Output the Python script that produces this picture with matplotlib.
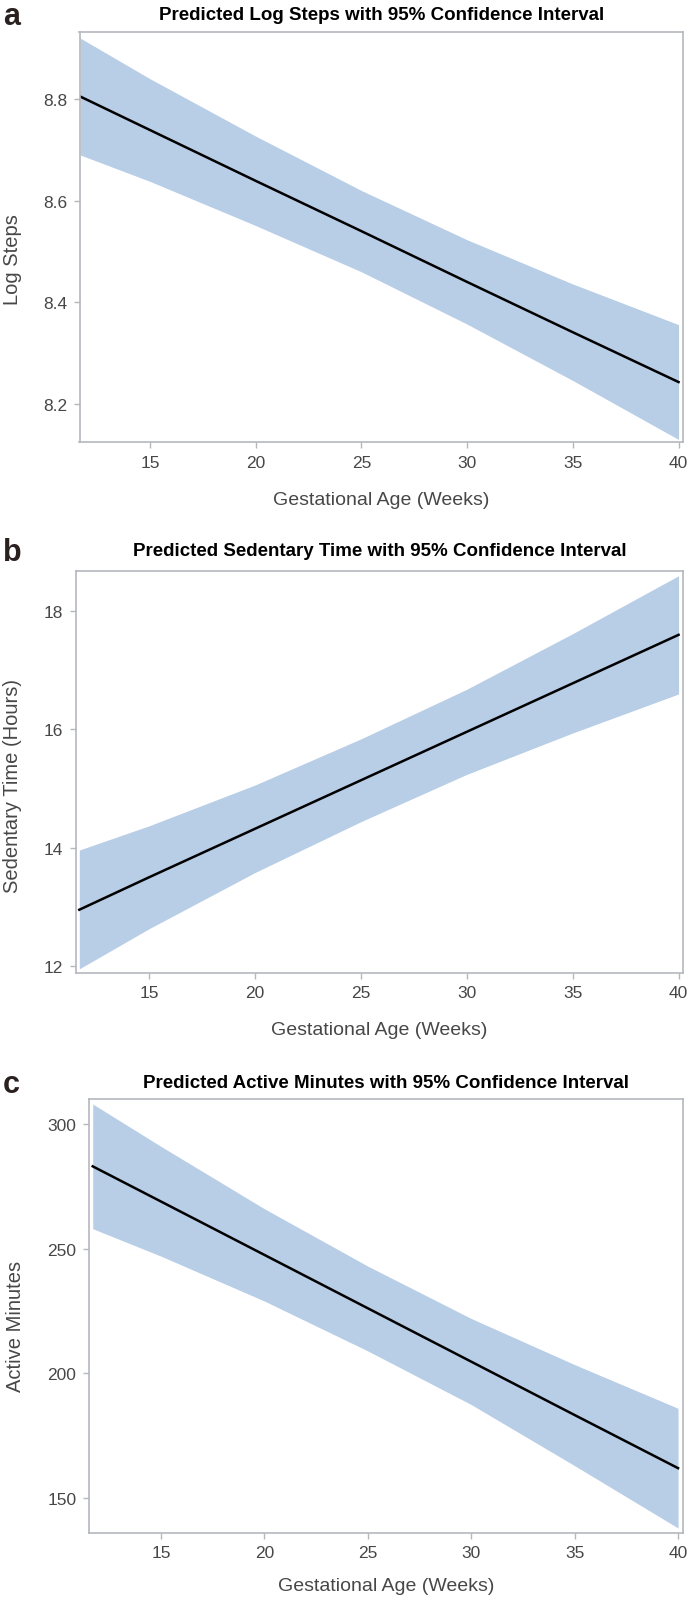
import matplotlib
matplotlib.use('Agg')
import matplotlib.pyplot as plt

# gestational age points where the fit and band were read
weeks = [11.7, 15, 20, 25, 30, 35, 40]

# a: log steps
steps_fit = [8.805, 8.739, 8.639, 8.540, 8.440, 8.341, 8.243]
steps_lo = [8.690, 8.638, 8.551, 8.460, 8.357, 8.246, 8.130]
steps_hi = [8.920, 8.840, 8.727, 8.620, 8.523, 8.436, 8.356]

# b: sedentary hours
sed_fit = [12.95, 13.50, 14.32, 15.14, 15.96, 16.78, 17.60]
sed_lo = [11.95, 12.63, 13.58, 14.44, 15.24, 15.94, 16.60]
sed_hi = [13.96, 14.37, 15.06, 15.84, 16.68, 17.62, 18.60]

# c: active minutes
act_fit = [283.0, 268.9, 247.5, 226.1, 204.7, 183.3, 162.0]
act_lo = [258.0, 247.0, 229.0, 209.0, 187.5, 163.0, 138.0]
act_hi = [308.0, 291.0, 266.0, 243.0, 222.0, 203.5, 186.0]

xticks = [15, 20, 25, 30, 35, 40]

W, H = 693.0, 1606.0
band_col = '#b8cde6'
txt_col = '#474747'
spine_col = '#b4b8bc'

plt.rcParams['font.family'] = ['Liberation Sans', 'DejaVu Sans']


def box(l, t, r, b):
	return [l / W, 1 - b / H, (r - l) / W, (b - t) / H]


panels = [
	dict(letter='a', title='Predicted Log Steps with 95% Confidence Interval',
		ylabel='Log Steps', fit=steps_fit, lo=steps_lo, hi=steps_hi,
		pos=(79.5, 33, 683, 443), xlim=(11.665, 40.21), ylim=(8.125, 8.932),
		yticks=[8.2, 8.4, 8.6, 8.8], yfmt='%.1f', title_y=16, letter_y=17,
		ylab_x=22, ylab_y=260, xlab_top=492),
	dict(letter='b', title='Predicted Sedentary Time with 95% Confidence Interval',
		ylabel='Sedentary Time (Hours)', fit=sed_fit, lo=sed_lo, hi=sed_hi,
		pos=(75.7, 572, 683, 974), xlim=(11.53, 40.21), ylim=(11.88, 18.68),
		yticks=[12, 14, 16, 18], yfmt='%d', title_y=552, letter_y=553,
		ylab_x=22, ylab_y=786, xlab_top=1022),
	dict(letter='c', title='Predicted Active Minutes with 95% Confidence Interval',
		ylabel='Active Minutes', fit=act_fit, lo=act_lo, hi=act_hi,
		pos=(89, 1100, 683, 1534), xlim=(11.52, 40.24), ylim=(136, 310),
		yticks=[150, 200, 250, 300], yfmt='%d', title_y=1084, letter_y=1085,
		ylab_x=25, ylab_y=1326, xlab_top=1578),
]

fig = plt.figure(figsize=(W / 100, H / 100), dpi=100)

for p in panels:
	l, t, r, b = p['pos']
	ax = fig.add_axes(box(l, t, r, b))
	ax.fill_between(weeks, p['lo'], p['hi'], color=band_col, linewidth=0)
	ax.plot(weeks, p['fit'], color='black', linewidth=1.8)
	ax.set_xlim(p['xlim'])
	ax.set_ylim(p['ylim'])
	ax.set_xticks(xticks)
	ax.set_yticks(p['yticks'])
	ax.set_yticklabels([p['yfmt'] % v for v in p['yticks']])
	for s in ax.spines.values():
		s.set_color(spine_col)
		s.set_linewidth(1.2)
	ax.tick_params(colors=spine_col, labelcolor=txt_col, labelsize=12.5,
		length=4, width=1, pad=5)
	ax.set_xlabel('Gestational Age (Weeks)', fontsize=14, color=txt_col)
	ax.xaxis.set_label_coords(0.5, (b - p['xlab_top']) / (b - t))
	ax.set_ylabel(p['ylabel'], fontsize=14.5, color=txt_col)
	ax.yaxis.set_label_coords((p['ylab_x'] - l) / (r - l), (b - p['ylab_y']) / (b - t))
	fig.text((l + r) / 2 / W, 1 - p['title_y'] / H, p['title'], ha='center',
		va='center', fontsize=13.5, fontweight='bold', color='black')
	fig.text(3 / W, 1 - p['letter_y'] / H, p['letter'], ha='left', va='center',
		fontsize=22, fontweight='bold', color='#2b2020')

fig.savefig('out.png', dpi=100)
plt.close(fig)
